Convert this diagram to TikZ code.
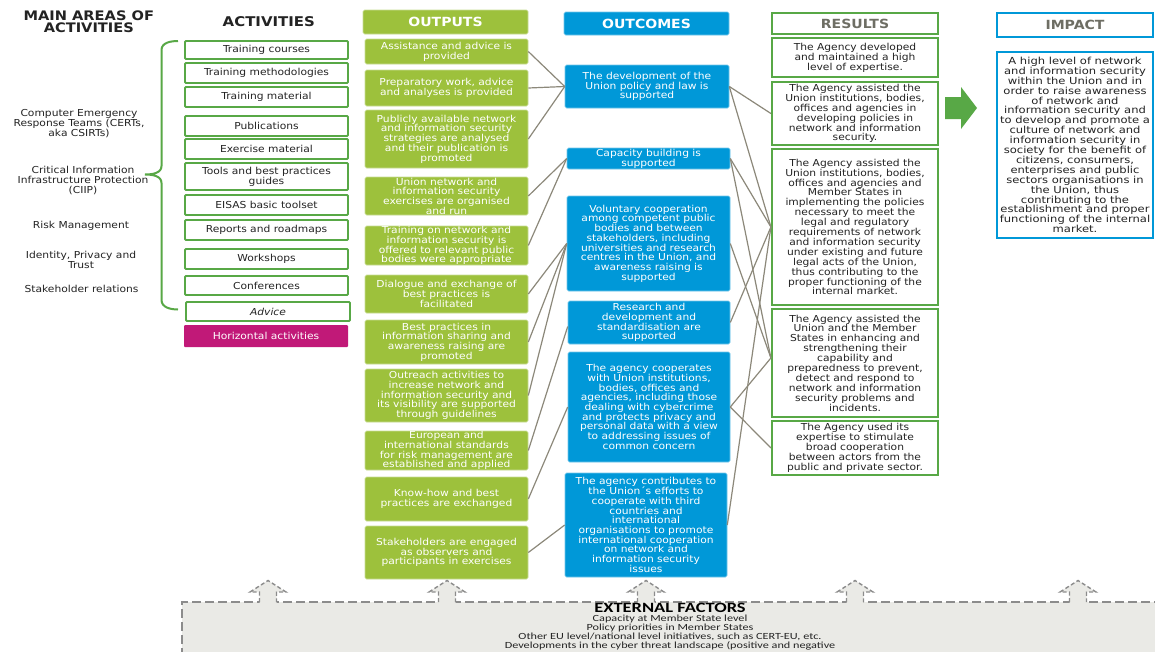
\documentclass[tikz,border=0pt]{standalone}
\usepackage{fontspec}
\setmainfont[FakeStretch=1.115]{DejaVu Sans}
\newfontfamily\impfont[FakeStretch=1.19]{DejaVu Sans}
\newfontfamily\extfont[FakeStretch=1.3]{Carlito}
\definecolor{grn}{RGB}{88,168,70}
\definecolor{olv}{RGB}{157,193,60}
\definecolor{blu}{RGB}{0,152,216}
\definecolor{mag}{RGB}{193,25,120}
\definecolor{lnk}{RGB}{140,136,122}
\definecolor{txt}{RGB}{35,35,35}
\definecolor{hgray}{RGB}{110,110,100}
\definecolor{extbg}{RGB}{234,234,230}
\definecolor{extln}{RGB}{140,140,140}
\newcommand\bx[7]{\node[#1, minimum width={#5-#3}, minimum height={#6-#4}] (#2) at ({(#3+#5)/2},{(#4+#6)/2}) {#7};}
\tikzset{
  base/.style={inner sep=0pt, align=center, font=\fontsize{9.6}{9.7}\selectfont},
  act/.style={base, draw=grn, line width=1.8pt, fill=white, text=txt, rounded corners=1pt},
  hz/.style={base, fill=mag, text=white, rounded corners=1pt},
  outb/.style={base, fill=olv, draw=olv!55!white, line width=0.6pt, text=white, rounded corners=1.5pt},
  ocb/.style={base, fill=blu, draw=blu!55!white, line width=0.6pt, text=white, rounded corners=1.5pt},
  res/.style={base, draw=grn, line width=2.2pt, fill=white, text=txt, font=\fontsize{9.6}{9.9}\selectfont},
  imp/.style={base, draw=blu, line width=2pt, fill=white, text=txt, font=\impfont\fontsize{9.7}{9.9}\selectfont},
  hdr/.style={font=\fontsize{12.6}{12.6}\selectfont\bfseries},
  hdrg/.style={hdr, text=hgray},
  lbl/.style={base, text=txt, font=\fontsize{9.6}{10}\selectfont},
  link/.style={draw=lnk, line width=1.2pt},
  extdash/.style={draw=extln, line width=1.8pt, dash pattern=on 9pt off 4pt},
  extarr/.style={draw=extln, line width=1.4pt, dash pattern=on 4pt off 2.5pt},
  exttxt/.style={anchor=base, inner sep=0pt, text=txt, font=\extfont\fontsize{9.4}{9}\selectfont},
}
\begin{document}
\begin{tikzpicture}[x=1pt,y=-1pt]
\useasboundingbox (0,0) rectangle (1155,651);
\fill[white] (0,0) rectangle (1155,651);

% left column
\node[base, text=txt, font=\fontsize{13.1}{12.4}\selectfont\bfseries] (mainhd) at (88.8,21.5) {MAIN AREAS OF\\ACTIVITIES};
\node[base, text=txt, font=\fontsize{13.4}{12.4}\selectfont\bfseries] (acthd) at (268.8,21.7) {ACTIVITIES};
\node[lbl] (l1) at (79,124) {Computer Emergency\\Response Teams (CERTs,\\aka CSIRTs)};
\node[lbl] (l2) at (83,180) {Critical Information\\Infrastructure Protection\\(CIIP)};
\node[lbl] (l3) at (81,225.7) {Risk Management};
\node[lbl] (l4) at (81,260) {Identity, Privacy and\\Trust};
\node[lbl] (l5) at (81.5,289) {Stakeholder relations};
\draw[grn, line width=2pt] (178,41) to[out=180,in=90] (161.5,50) -- (161.5,166) to[out=-90,in=0] (145,174.5) to[out=0,in=90] (161.5,183) -- (161.5,300) to[out=-90,in=180] (178,309.5);

% activities
\bx{act}{a1}{185}{41}{348}{59}{Training courses}
\bx{act}{a2}{185}{63}{348}{83}{Training methodologies}
\bx{act}{a3}{185}{87}{348}{107}{Training material}
\bx{act}{a4}{185}{116}{348}{136}{Publications}
\bx{act}{a5}{185}{139}{348}{159}{Exercise material}
\bx{act}{a6}{185}{163}{348}{190}{Tools and best practices\\guides}
\bx{act}{a7}{185}{195}{348}{215}{EISAS basic toolset}
\bx{act}{a8}{185}{220}{348}{240}{Reports and roadmaps}
\bx{act}{a9}{185}{249}{348}{269}{Workshops}
\bx{act}{a10}{185}{276}{348}{295}{Conferences}
\bx{act}{a11}{186}{302}{350}{321}{\itshape Advice}
\bx{hz}{a12}{184}{325}{348}{347}{Horizontal activities}

% outputs
\bx{outb,hdr}{oh}{363}{10}{528}{34}{OUTPUTS}
\bx{outb}{o1}{365}{39}{528}{64}{Assistance and advice is\\provided}
\bx{outb}{o2}{365}{70}{528}{106}{Preparatory work, advice\\and analyses is provided}
\bx{outb}{o3}{365}{110}{528}{168}{Publicly available network\\and information security\\strategies are analysed\\and their publication is\\promoted}
\bx{outb}{o4}{365}{177}{528}{215}{Union network and\\information security\\exercises are organised\\and run}
\bx{outb}{o5}{365}{226}{528}{265}{Training on network and\\information security is\\offered to relevant public\\bodies were appropriate}
\bx{outb}{o6}{365}{275}{528}{313}{Dialogue and exchange of\\best practices is\\facilitated}
\bx{outb}{o7}{365}{320}{528}{364}{Best practices in\\information sharing and\\awareness raising are\\promoted}
\bx{outb}{o8}{365}{369}{528}{422}{Outreach activities to\\increase network and\\information security and\\its visibility are supported\\through guidelines}
\bx{outb}{o9}{365}{431}{528}{470}{European and\\international standards\\for risk management are\\established and applied}
\bx{outb}{o10}{365}{477}{528}{521}{Know-how and best\\practices are exchanged}
\bx{outb}{o11}{365}{526}{528}{579}{Stakeholders are engaged\\as observers and\\participants in exercises}

% outcomes
\bx{ocb,hdr}{och}{564}{12}{729}{35}{OUTCOMES}
\bx{ocb}{oc1}{565}{65}{729}{108}{The development of the\\Union policy and law is\\supported}
\bx{ocb}{oc2}{567}{148}{730}{169}{Capacity building is\\supported}
\bx{ocb}{oc3}{567}{196}{730}{291}{Voluntary cooperation\\among competent public\\bodies and between\\stakeholders, including\\universities and research\\centres in the Union, and\\awareness raising is\\supported}
\bx{ocb}{oc4}{568}{301}{730}{344}{Research and\\development and\\standardisation are\\supported}
\bx{ocb}{oc5}{568}{352}{730}{462}{The agency cooperates\\with Union institutions,\\bodies, offices and\\agencies, including those\\dealing with cybercrime\\and protects privacy and\\personal data with a view\\to addressing issues of\\common concern}
\bx{ocb}{oc6}{565}{473}{727}{577}{The agency contributes to\\the Union´s efforts to\\cooperate with third\\countries and\\international\\organisations to promote\\international cooperation\\on network and\\information security\\issues}

% results
\bx{res,hdrg}{rh}{772}{13}{938}{34}{RESULTS}
\bx{res}{r1}{772}{38}{938}{77}{The Agency developed\\and maintained a high\\level of expertise.}
\bx{res}{r2}{772}{82}{938}{145}{The Agency assisted the\\Union institutions, bodies,\\offices and agencies in\\developing policies in\\network and information\\security.}
\bx{res}{r3}{772}{149}{938}{305}{The Agency assisted the\\Union institutions, bodies,\\offices and agencies and\\Member States in\\implementing the policies\\necessary to meet the\\legal and regulatory\\requirements of network\\and information security\\under existing and future\\legal acts of the Union,\\thus contributing to the\\proper functioning of the\\internal market.}
\bx{res}{r4}{772}{309}{938}{417}{The Agency assisted the\\Union and the Member\\States in enhancing and\\strengthening their\\capability and\\preparedness to prevent,\\detect and respond to\\network and information\\security problems and\\incidents.}
\bx{res}{r5}{772}{421}{938}{475}{The Agency used its\\expertise to stimulate\\broad cooperation\\between actors from the\\public and private sector.}

% impact
\fill[grn] (945,97) -- (961,97) -- (961,87) -- (977,108) -- (961,129) -- (961,119) -- (945,119) -- cycle;
\bx{imp,hdrg}{ih}{997}{13}{1153}{37}{IMPACT}
\bx{imp}{i1}{997}{52}{1153}{238}{A high level of network\\and information security\\within the Union and in\\order to raise awareness\\of network and\\information security and\\to develop and promote a\\culture of network and\\information security in\\society for the benefit of\\citizens, consumers,\\enterprises and public\\sectors organisations in\\the Union, thus\\contributing to the\\establishment and proper\\functioning of the internal\\market.}

% connectors outputs -> outcomes
\draw[link] (o1.east) -- (oc1.west);
\draw[link] (o2.east) -- (oc1.west);
\draw[link] (o3.east) -- (oc1.west);
\draw[link] (o4.east) -- (oc2.west);
\draw[link] (o5.east) -- (oc2.west);
\draw[link] (o6.east) -- (oc3.west);
\draw[link] (o7.east) -- (oc3.west);
\draw[link] (o8.east) -- (oc3.west);
\draw[link] (o9.east) -- ([yshift=-4pt]oc4.west);
\draw[link] (o10.east) -- (oc5.west);
\draw[link] (o11.east) -- (oc6.west);

% connectors outcomes -> results
\draw[link] (oc1.east) -- (r2.west);
\draw[link] (oc1.east) -- (r3.west);
\draw[link] (oc2.east) -- (r3.west);
\draw[link] (oc2.east) -- ([yshift=5pt]r4.west);
\draw[link] (oc3.east) -- ([yshift=5pt]r4.west);
\draw[link] (oc4.east) -- (r3.west);
\draw[link] (oc5.east) -- ([yshift=5pt]r4.west);
\draw[link] (oc5.east) -- (r5.west);
\draw[link] (oc6.east) -- (r3.west);

% external factors
\fill[extbg] (182,602) rectangle (1170,670);
\draw[extdash] (182,670) -- (182,602) -- (1170,602);
\foreach \cx in {268,447,646,855,1078} {
  \fill[extbg] (\cx-8.5,603) -- (\cx-8.5,592) -- (\cx-18,592) -- (\cx,580.5) -- (\cx+18,592) -- (\cx+8.5,592) -- (\cx+8.5,603) -- cycle;
  \draw[extarr] (\cx-8.5,602) -- (\cx-8.5,592) -- (\cx-18,592) -- (\cx,580.5) -- (\cx+18,592) -- (\cx+8.5,592) -- (\cx+8.5,602);
}
\node[anchor=base, inner sep=0pt, text=black, font=\extfont\fontsize{14.2}{15}\selectfont\bfseries] (ext0) at (670,612.5) {EXTERNAL FACTORS};
\node[exttxt] (ext1) at (670,621.5) {Capacity at Member State level};
\node[exttxt] (ext2) at (670,630.5) {Policy priorities in Member States};
\node[exttxt] (ext3) at (670,639.5) {Other EU level/national level initiatives, such as CERT-EU, etc.};
\node[exttxt] (ext4) at (670,648.5) {Developments in the cyber threat landscape (positive and negative};
\end{tikzpicture}
\end{document}
